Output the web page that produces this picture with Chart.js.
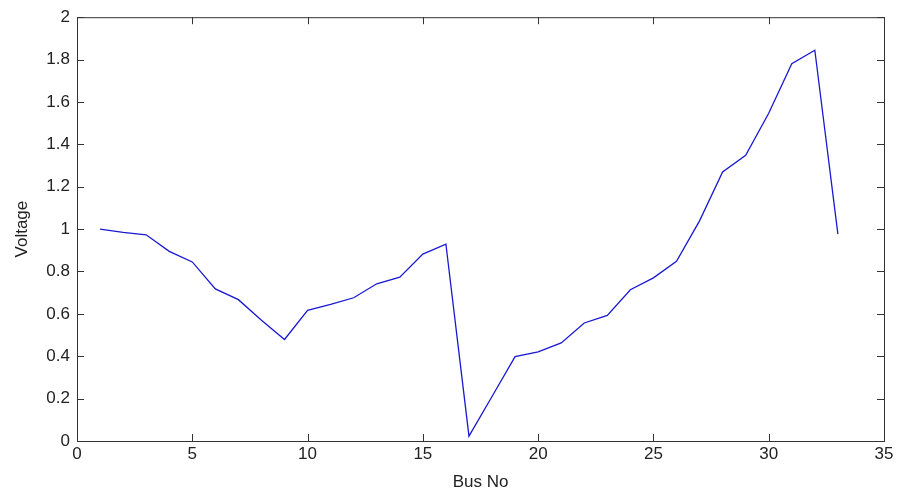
<!DOCTYPE html>
<html>
<head>
<meta charset="utf-8">
<script src="https://cdn.jsdelivr.net/npm/chart.js@4"></script>
<style>
  html, body { margin: 0; padding: 0; background: #fff; }
  #wrap { width: 898px; height: 497px; }
</style>
</head>
<body>
<div id="wrap"><canvas id="voltageChart"></canvas></div>
<script>
// Bus numbers and voltages
const busNo = [1, 2, 3, 4, 5, 6, 7, 8, 9, 10, 11, 12, 13, 14, 15, 16, 17,
  18, 19, 20, 21, 22, 23, 24, 25, 26, 27, 28, 29, 30, 31, 32, 33];
const voltage = [1.0, 0.985, 0.973, 0.895, 0.845, 0.718, 0.667, 0.57, 0.479,
  0.617, 0.645, 0.676, 0.742, 0.773, 0.882, 0.929, 0.023, 0.21, 0.398, 0.421,
  0.463, 0.557, 0.593, 0.714, 0.77, 0.848, 1.039, 1.27, 1.348, 1.547, 1.781,
  1.844, 0.976];
const xTicks = [0, 5, 10, 15, 20, 25, 30, 35];
const yTicks = [0, 0.2, 0.4, 0.6, 0.8, 1, 1.2, 1.4, 1.6, 1.8, 2];

const FONT = "'Liberation Sans Narrow', 'Liberation Sans', Arial, sans-serif";
const AXIS_COLOR = "#333";

// MATLAB style box with inward ticks on all four sides
const boxPlugin = {
  id: "box",
  afterDraw(chart) {
    const { ctx, chartArea: a, scales } = chart;
    ctx.save();
    ctx.strokeStyle = AXIS_COLOR;
    ctx.lineWidth = 1;
    ctx.strokeRect(a.left + 0.5, a.top + 0.5, a.right - a.left, a.bottom - a.top);
    const len = 7;
    ctx.beginPath();
    xTicks.forEach((v) => {
      const x = Math.round(scales.x.getPixelForValue(v)) + 0.5;
      ctx.moveTo(x, a.bottom);
      ctx.lineTo(x, a.bottom - len);
      ctx.moveTo(x, a.top);
      ctx.lineTo(x, a.top + len);
    });
    yTicks.forEach((v) => {
      const y = Math.round(scales.y.getPixelForValue(v)) + 0.5;
      ctx.moveTo(a.left, y);
      ctx.lineTo(a.left + len, y);
      ctx.moveTo(a.right, y);
      ctx.lineTo(a.right - len, y);
    });
    ctx.stroke();
    ctx.restore();
  },
};

const ctx = document.getElementById("voltageChart").getContext("2d");
new Chart(ctx, {
  type: "line",
  data: {
    datasets: [
      {
        label: "Voltage",
        data: busNo.map((b, i) => ({ x: b, y: voltage[i] })),
        borderColor: "rgb(25, 25, 210)",
        borderWidth: 1.3,
        pointRadius: 0,
        tension: 0,
        fill: false,
      },
    ],
  },
  options: {
    responsive: true,
    maintainAspectRatio: false,
    animation: false,
    layout: { padding: { top: 15, right: 14, left: 0, bottom: 0 } },
    plugins: {
      legend: { display: false },
      tooltip: { enabled: false },
    },
    scales: {
      x: {
        type: "linear",
        min: 0,
        max: 35,
        afterBuildTicks: (scale) => {
          scale.ticks = xTicks.map((v) => ({ value: v }));
        },
        afterFit: (scale) => {
          scale.height = 56;
        },
        grid: { display: false, drawTicks: false },
        border: { display: false },
        ticks: {
          color: "#222",
          padding: 3,
          font: { family: FONT, size: 17 },
        },
        title: {
          display: true,
          text: "Bus No",
          color: "#222",
          font: { family: FONT, size: 17 },
          padding: { top: 0, bottom: 4 },
        },
      },
      y: {
        min: 0,
        max: 2,
        afterBuildTicks: (scale) => {
          scale.ticks = yTicks.map((v) => ({ value: v }));
        },
        afterFit: (scale) => {
          scale.width = 77;
        },
        grid: { display: false, drawTicks: false },
        border: { display: false },
        ticks: {
          color: "#222",
          padding: 7,
          font: { family: FONT, size: 17 },
          callback: (v) => String(Math.round(v * 10) / 10),
        },
        title: {
          display: true,
          text: "Voltage",
          color: "#222",
          font: { family: FONT, size: 17 },
          padding: { top: 12, bottom: 0 },
        },
      },
    },
  },
  plugins: [boxPlugin],
});
</script>
</body>
</html>
